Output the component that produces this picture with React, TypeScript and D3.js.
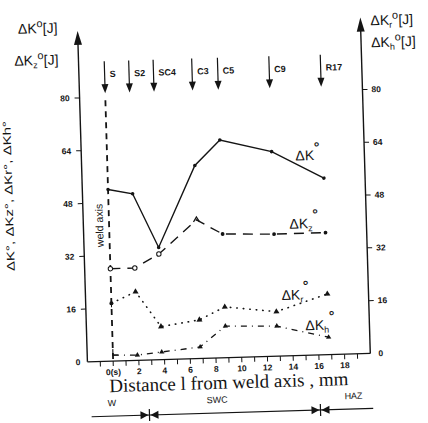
import React from "react";
import * as d3 from "d3";

// ---- data ----
const positions = [0, 1.9, 3.8, 6.8, 8.8, 12.8, 16.8];
const zoneLabels = ["S", "S2", "SC4", "C3", "C5", "C9", "R17"];
const dK = [52, 50.5, 34, 58.5, 66, 62, 53.5];
const dKz = [28, 28, 32, 42, 37.5, 37, 37];
const dKr = [17.5, 20.8, 10, 11.7, 15.4, 13.5, 18.4];
const dKh = [1.8, 1.6, 2.3, 3.5, 9.6, 9.1, 5.3];
const yTicks = [0, 16, 32, 48, 64, 80];
const xLabelValues = [0, 2, 4, 6, 8, 10, 12, 14, 16, 18];
const xLabelTexts = ["0(s)", "2", "4", "6", "8", "10", "12", "14", "16", "18"];
const xMinorTicks = d3.range(-1, 20, 1);
const zoneBounds = [2.7, 16.0];
const zoneNames = ["W", "SWC", "HAZ"];
const zoneNameX = [-0.2, 8.0, 18.6];

const INK = "#141414";

export default function App() {
  const W = 428, H = 423;
  const x = d3.scaleLinear().domain([-2, 20]).range([83, 366]);
  const y = d3.scaleLinear().domain([0, 80]).range([358, 94]);
  const line = d3.line<number>().x((_, i) => x(positions[i])).y((d) => y(d));
  const xL = x(-2), xR = x(20), y0 = y(0);
  const tickFont = { fontFamily: "Liberation Sans, Arial, sans-serif", fontWeight: 700, fontSize: 8.5, fill: INK } as const;
  const titleFont = { fontFamily: "Liberation Sans, Arial, sans-serif", fontSize: 14, fill: INK } as const;

  const bowtie = (cx: number, cy: number, k: number) => (
    <g key={"bt" + k}>
      <path d={`M${cx - 9},${cy - 4} L${cx - 1},${cy} L${cx - 9},${cy + 4} Z`} fill={INK} />
      <path d={`M${cx + 9},${cy - 4} L${cx + 1},${cy} L${cx + 9},${cy + 4} Z`} fill={INK} />
      <line x1={cx} x2={cx} y1={cy - 6} y2={cy + 6} stroke={INK} strokeWidth={1.2} />
    </g>
  );

  return (
    <svg width={W} height={H} style={{ position: "absolute", left: 0, top: 0, background: "#fff" }}>
      <rect width={W} height={H} fill="#fff" />
      <g transform="rotate(-1.7 214 211)">
        {/* left rotated label */}
        <text transform={`translate(13,190) rotate(-90)`} textAnchor="middle" textLength={150} lengthAdjust="spacingAndGlyphs"
          style={{ ...titleFont, fontSize: 11 }}>
          ΔK°, ΔKz°, ΔKr°, ΔKh°
        </text>

        {/* axes */}
        <line x1={xL} x2={xL} y1={y0} y2={36} stroke={INK} strokeWidth={1.4} />
        <path d={`M${xL},${27} L${xL - 4},${41} L${xL + 4},${41} Z`} fill={INK} />
        <line x1={xR} x2={xR} y1={y0} y2={31} stroke={INK} strokeWidth={1.4} />
        <path d={`M${xR},${22} L${xR - 4},${36} L${xR + 4},${36} Z`} fill={INK} />
        <line x1={xL} x2={xR} y1={y0} y2={y0} stroke={INK} strokeWidth={1.3} />

        {/* y ticks */}
        {yTicks.map((t) => (
          <g key={"yl" + t}>
            {t > 0 && <line x1={xL - 5} x2={xL} y1={y(t)} y2={y(t)} stroke={INK} strokeWidth={1} />}
            <text x={xL - (t > 0 ? 10 : 7)} y={y(t) + 3} textAnchor="end" style={tickFont}>{t}</text>
          </g>
        ))}
        {yTicks.map((t) => (
          <g key={"yr" + t}>
            {t > 0 && <line x1={xR} x2={xR + 5} y1={y(t)} y2={y(t)} stroke={INK} strokeWidth={1} />}
            <text x={xR + (t > 0 ? 9 : 8)} y={y(t) + 3} textAnchor="start" style={tickFont}>{t}</text>
          </g>
        ))}

        {/* x ticks */}
        {xMinorTicks.map((t) => (
          <line key={"xt" + t} x1={x(t)} x2={x(t)} y1={y0} y2={y0 + 5} stroke={INK} strokeWidth={1} />
        ))}
        {xLabelValues.map((v, i) => (
          <text key={"xlab" + v} x={x(v)} y={y0 + 14} textAnchor="middle" style={tickFont}>{xLabelTexts[i]}</text>
        ))}
        <text x={x(-0.35)} y={389} textLength={239} lengthAdjust="spacingAndGlyphs"
          style={{ fontFamily: "Liberation Serif, Times New Roman, serif", fontSize: 19, fill: INK }}>
          Distance l from weld axis , mm
        </text>

        {/* zones */}
        <line x1={x(-1.8)} x2={x(20.1)} y1={413} y2={413} stroke={INK} strokeWidth={1.1} />
        {zoneBounds.map((b, k) => bowtie(x(b), 413, k))}
        {zoneNames.map((n, i) => (
          <text key={"zn" + n} x={x(zoneNameX[i])} y={403} textAnchor="middle"
            style={{ ...tickFont, fontWeight: 400, fontSize: 9 }}>{n}</text>
        ))}

        {/* weld axis */}
        <line x1={x(0)} x2={x(0)} y1={97} y2={y0} stroke={INK} strokeWidth={1.8} strokeDasharray="6 5" />
        <text transform={`translate(${x(0) - 6},222) rotate(-90)`} textAnchor="middle"
          style={{ fontFamily: "Liberation Sans, Arial, sans-serif", fontSize: 10.5, fill: INK }}>weld axis</text>

        {/* zone arrows */}
        {positions.map((p, i) => (
          <g key={"ar" + i}>
            <line x1={x(p)} x2={x(p)} y1={58} y2={83} stroke={INK} strokeWidth={1.2} />
            <path d={`M${x(p)},${90} L${x(p) - 3.5},${81} L${x(p) + 3.5},${81} Z`} fill={INK} />
            <text x={x(p) + 5} y={74} style={{ ...tickFont, fontSize: 9 }}>{zoneLabels[i]}</text>
          </g>
        ))}

        {/* series */}
        <path d={line(dK) || ""} fill="none" stroke={INK} strokeWidth={1.4} />
        {dK.map((v, i) => (
          <circle key={"k" + i} cx={x(positions[i])} cy={y(v)} r={1.8} fill={INK} />
        ))}

        <path d={line(dKz) || ""} fill="none" stroke={INK} strokeWidth={1.4} strokeDasharray="10 7" />
        {dKz.map((v, i) =>
          i < 3 ? (
            <circle key={"z" + i} cx={x(positions[i])} cy={y(v)} r={2.2} fill="#fff" stroke={INK} strokeWidth={1} />
          ) : i === 3 ? (
            <path key={"z" + i} d={`M${x(positions[i]) - 3},${y(v) + 2} L${x(positions[i])},${y(v) - 3} L${x(positions[i]) + 3},${y(v) + 2}`}
              fill="none" stroke={INK} strokeWidth={1.3} />
          ) : (
            <circle key={"z" + i} cx={x(positions[i])} cy={y(v)} r={1.9} fill={INK} />
          )
        )}

        <path d={line(dKr) || ""} fill="none" stroke={INK} strokeWidth={1.6} strokeDasharray="0.5 6" strokeLinecap="round" />
        {dKr.map((v, i) =>
          i === 0 ? (
            <g key={"r" + i}>
              <circle cx={x(positions[i])} cy={y(v)} r={2} fill={INK} />
              <line x1={x(positions[i])} x2={x(positions[i])} y1={y(v) - 4} y2={y(v) + 4} stroke={INK} strokeWidth={1} />
            </g>
          ) : (
            <path key={"r" + i} d={d3.symbol(d3.symbolTriangle, 16)() || ""}
              transform={`translate(${x(positions[i])},${y(v)})`} fill={INK} />
          )
        )}

        <path d={line(dKh) || ""} fill="none" stroke={INK} strokeWidth={1.3} strokeDasharray="6 5 1 5" />
        {dKh.map((v, i) =>
          i === 0 ? (
            <path key={"h" + i} d={`M${x(positions[i])},${y(v) - 6} L${x(positions[i])},${y(v)} L${x(positions[i]) + 5},${y(v)}`}
              fill="none" stroke={INK} strokeWidth={1.1} />
          ) : (
            <path key={"h" + i} d={d3.symbol(d3.symbolTriangle, 12)() || ""}
              transform={`translate(${x(positions[i])},${y(v)})`} fill={INK} />
          )
        )}

        {/* series labels */}
        <text x={297} y={163} style={titleFont}>ΔK<tspan dy={-8} fontSize={14} fontWeight={700}>°</tspan></text>
        <text x={289} y={231} style={titleFont}>ΔK<tspan dy={3} fontSize={9}>z</tspan><tspan dy={-12} fontSize={14} fontWeight={700}>°</tspan></text>
        <text x={279} y={302} style={titleFont}>ΔK<tspan dy={3} fontSize={9}>r</tspan><tspan dy={-12} fontSize={14} fontWeight={700}>°</tspan></text>
        <text x={302} y={333} style={titleFont}>ΔK<tspan dy={3} fontSize={9}>h</tspan><tspan dy={-12} fontSize={14} fontWeight={700}>°</tspan></text>

        {/* axis titles */}
        <text x={63} y={28} textAnchor="end" style={titleFont}>ΔK<tspan dy={-6} fontSize={11}>o</tspan><tspan dy={6}>[J]</tspan></text>
        <text x={63} y={60} textAnchor="end" style={titleFont}>ΔK<tspan dy={3} fontSize={9}>z</tspan><tspan dy={-9} fontSize={11}>o</tspan><tspan dy={6}>[J]</tspan></text>
        <text x={376} y={30} textAnchor="start" style={titleFont}>ΔK<tspan dy={3} fontSize={9}>r</tspan><tspan dy={-9} fontSize={11}>o</tspan><tspan dy={6}>[J]</tspan></text>
        <text x={376} y={52} textAnchor="start" style={titleFont}>ΔK<tspan dy={3} fontSize={9}>h</tspan><tspan dy={-9} fontSize={11}>o</tspan><tspan dy={6}>[J]</tspan></text>
      </g>
    </svg>
  );
}
